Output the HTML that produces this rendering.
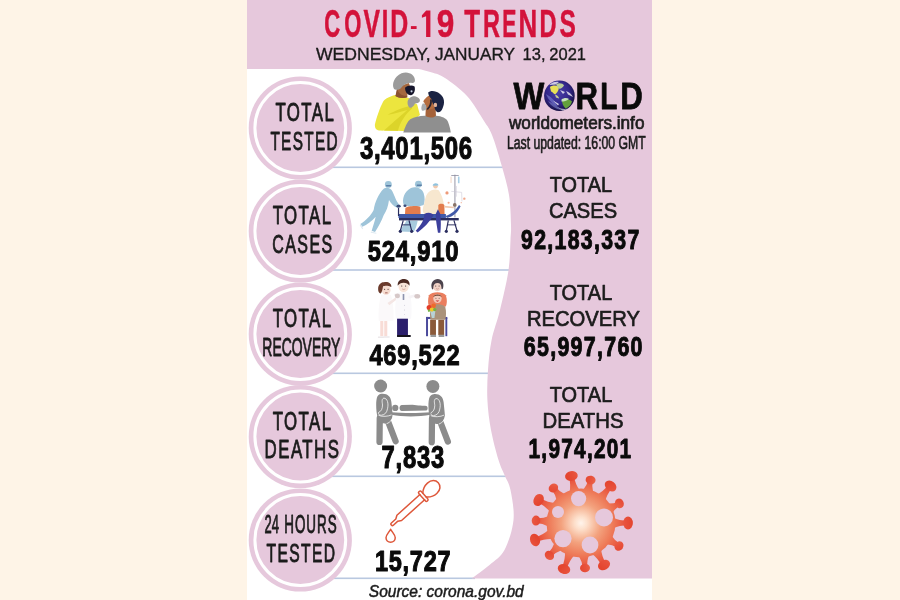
<!DOCTYPE html>
<html><head><meta charset="utf-8"><title>COVID-19 Trends</title>
<style>
html,body{margin:0;padding:0;background:#fef4e7;}
body{width:900px;height:600px;overflow:hidden;font-family:"Liberation Sans",sans-serif;}
svg{display:block;will-change:transform;font-family:"Liberation Sans",sans-serif;}
</style></head><body>
<svg width="900" height="600" viewBox="0 0 900 600">
<rect x="247" y="0" width="405" height="600" fill="#fff"/>
<rect x="247" y="0" width="405" height="69" fill="#e6c8dc"/>
<rect x="330" y="166.5" width="190" height="1.6" fill="#b9c8e0"/>
<rect x="330" y="269.2" width="190" height="1.6" fill="#b9c8e0"/>
<rect x="330" y="372.5" width="190" height="1.6" fill="#b9c8e0"/>
<rect x="330" y="475.5" width="190" height="1.6" fill="#b9c8e0"/>
<rect x="330" y="577.5" width="145" height="1.6" fill="#b9c8e0"/>
<path d="M 419.0 69.0 C 421.2 69.6 427.7 71.0 432.0 72.5 C 436.3 74.0 439.2 74.1 445.0 78.0 C 450.8 81.9 460.5 88.8 467.0 96.0 C 473.5 103.2 479.8 114.5 484.0 121.0 C 488.2 127.5 489.1 127.7 492.0 135.0 C 494.9 142.3 498.7 155.0 501.5 165.0 C 504.3 175.0 507.4 185.0 509.0 195.0 C 510.6 205.0 510.8 217.5 511.0 225.0 C 511.2 232.5 510.9 232.3 510.5 240.0 C 510.1 247.7 510.1 259.3 508.4 271.0 C 506.6 282.7 502.8 298.5 500.0 310.0 C 497.2 321.5 493.6 330.0 491.6 340.0 C 489.6 350.0 488.7 360.0 488.0 370.0 C 487.3 380.0 486.9 390.0 487.4 400.0 C 487.9 410.0 489.1 420.0 491.0 430.0 C 492.9 440.0 496.2 452.5 498.5 460.0 C 500.8 467.5 502.5 470.0 504.5 475.0 C 506.5 480.0 509.0 482.5 510.5 490.0 C 512.0 497.5 514.5 510.0 513.5 520.0 C 512.5 530.0 508.5 542.5 504.5 550.0 C 500.5 557.5 495.0 560.2 489.5 565.0 C 484.0 569.8 474.5 576.3 471.5 578.6 L 652 578.6 L 652 69 Z" fill="#e6c8dc"/>
<circle cx="300.3" cy="128.0" r="51.6" fill="#e6c8dc"/>
<circle cx="300.3" cy="128.0" r="45.4" fill="none" stroke="#fff" stroke-width="3"/>
<circle cx="300.3" cy="231.0" r="51.6" fill="#e6c8dc"/>
<circle cx="300.3" cy="231.0" r="45.4" fill="none" stroke="#fff" stroke-width="3"/>
<circle cx="300.3" cy="334.0" r="51.6" fill="#e6c8dc"/>
<circle cx="300.3" cy="334.0" r="45.4" fill="none" stroke="#fff" stroke-width="3"/>
<circle cx="300.3" cy="436.5" r="51.6" fill="#e6c8dc"/>
<circle cx="300.3" cy="436.5" r="45.4" fill="none" stroke="#fff" stroke-width="3"/>
<circle cx="300.3" cy="540.0" r="51.6" fill="#e6c8dc"/>
<circle cx="300.3" cy="540.0" r="45.4" fill="none" stroke="#fff" stroke-width="3"/>
<text transform="translate(324.36 36.90) scale(0.5813 1)" font-size="38.08" font-weight="bold" fill="#d3123a" stroke="#d3123a" stroke-width="0.5" stroke-linejoin="round">C</text>
<text transform="translate(344.37 36.90) scale(0.5781 1)" font-size="38.08" font-weight="bold" fill="#d3123a" stroke="#d3123a" stroke-width="0.5" stroke-linejoin="round">O</text>
<text transform="translate(363.43 36.90) scale(0.6495 1)" font-size="38.08" font-weight="bold" fill="#d3123a" stroke="#d3123a" stroke-width="0.5" stroke-linejoin="round">V</text>
<text transform="translate(381.73 36.90) scale(0.6157 1)" font-size="38.08" font-weight="bold" fill="#d3123a" stroke="#d3123a" stroke-width="0.5" stroke-linejoin="round">I</text>
<text transform="translate(390.33 36.90) scale(0.6533 1)" font-size="38.08" font-weight="bold" fill="#d3123a" stroke="#d3123a" stroke-width="0.5" stroke-linejoin="round">D</text>
<text transform="translate(436.65 36.90) scale(0.8284 1)" font-size="38.08" font-weight="bold" fill="#d3123a" stroke="#d3123a" stroke-width="0.5" stroke-linejoin="round">9</text>
<text transform="translate(464.19 36.90) scale(0.6810 1)" font-size="38.08" font-weight="bold" fill="#d3123a" stroke="#d3123a" stroke-width="0.5" stroke-linejoin="round">T</text>
<text transform="translate(482.92 36.90) scale(0.6162 1)" font-size="38.08" font-weight="bold" fill="#d3123a" stroke="#d3123a" stroke-width="0.5" stroke-linejoin="round">R</text>
<text transform="translate(502.17 36.90) scale(0.5577 1)" font-size="38.08" font-weight="bold" fill="#d3123a" stroke="#d3123a" stroke-width="0.5" stroke-linejoin="round">E</text>
<text transform="translate(518.56 36.90) scale(0.6810 1)" font-size="38.08" font-weight="bold" fill="#d3123a" stroke="#d3123a" stroke-width="0.5" stroke-linejoin="round">N</text>
<text transform="translate(539.52 36.90) scale(0.6191 1)" font-size="38.08" font-weight="bold" fill="#d3123a" stroke="#d3123a" stroke-width="0.5" stroke-linejoin="round">D</text>
<text transform="translate(559.51 36.90) scale(0.6434 1)" font-size="38.08" font-weight="bold" fill="#d3123a" stroke="#d3123a" stroke-width="0.5" stroke-linejoin="round">S</text>
<text transform="translate(315.99 60.00) scale(1.0338 1)" font-size="17.01" fill="#1a1a1a" stroke="#1a1a1a" stroke-width="0.35" stroke-linejoin="round">WEDNESDAY,</text>
<text transform="translate(434.92 60.00) scale(1.0149 1)" font-size="17.01" fill="#1a1a1a" stroke="#1a1a1a" stroke-width="0.35" stroke-linejoin="round">JANUARY</text>
<text transform="translate(522.54 60.00) scale(0.9721 1)" font-size="17.01" fill="#1a1a1a" stroke="#1a1a1a" stroke-width="0.35" stroke-linejoin="round">13,</text>
<text transform="translate(549.35 60.00) scale(0.9676 1)" font-size="17.01" fill="#1a1a1a" stroke="#1a1a1a" stroke-width="0.35" stroke-linejoin="round">2021</text>
<rect x="410.9" y="26.1" width="5.7" height="2.9" fill="#d3123a"/><path d="M421.9 15.2 L426.2 10.6 L430.4 10.6 L430.4 37.1 L426.1 37.1 L426.1 16.2 L421.9 17.8 Z" fill="#d3123a"/>
<text transform="translate(275.39 121.30) scale(0.6585 1)" font-size="25.58" fill="#1c1c1c" stroke="#1c1c1c" stroke-width="0.85" stroke-linejoin="round" letter-spacing="2.189">TOTAL</text>
<text transform="translate(270.42 149.50) scale(0.6138 1)" font-size="25.00" fill="#1c1c1c" stroke="#1c1c1c" stroke-width="0.85" stroke-linejoin="round" letter-spacing="2.156">TESTED</text>
<text transform="translate(272.69 223.90) scale(0.6574 1)" font-size="25.58" fill="#1c1c1c" stroke="#1c1c1c" stroke-width="0.85" stroke-linejoin="round" letter-spacing="2.189">TOTAL</text>
<text transform="translate(272.13 252.90) scale(0.6252 1)" font-size="25.58" fill="#1c1c1c" stroke="#1c1c1c" stroke-width="0.85" stroke-linejoin="round" letter-spacing="2.341">CASES</text>
<text transform="translate(272.69 327.30) scale(0.6574 1)" font-size="25.58" fill="#1c1c1c" stroke="#1c1c1c" stroke-width="0.85" stroke-linejoin="round" letter-spacing="2.189">TOTAL</text>
<text transform="translate(262.33 355.90) scale(0.5393 1)" font-size="25.87" fill="#1c1c1c" stroke="#1c1c1c" stroke-width="0.9" stroke-linejoin="round">RECOVERY</text>
<text transform="translate(272.69 429.90) scale(0.6574 1)" font-size="25.58" fill="#1c1c1c" stroke="#1c1c1c" stroke-width="0.85" stroke-linejoin="round" letter-spacing="2.189">TOTAL</text>
<text transform="translate(264.58 458.30) scale(0.6594 1)" font-size="25.58" fill="#1c1c1c" stroke="#1c1c1c" stroke-width="0.85" stroke-linejoin="round" letter-spacing="2.191">DEATHS</text>
<text transform="translate(264.40 533.30) scale(0.5086 1)" font-size="25.58" fill="#1c1c1c" stroke="#1c1c1c" stroke-width="0.9" stroke-linejoin="round">24</text>
<text transform="translate(284.18 533.30) scale(0.5253 1)" font-size="25.58" fill="#1c1c1c" stroke="#1c1c1c" stroke-width="0.9" stroke-linejoin="round" letter-spacing="1.938">HOURS</text>
<text transform="translate(266.54 561.80) scale(0.6121 1)" font-size="25.58" fill="#1c1c1c" stroke="#1c1c1c" stroke-width="0.9" stroke-linejoin="round" letter-spacing="2.206">TESTED</text>
<text transform="translate(359.95 158.80) scale(0.7745 1)" font-size="30.96" font-weight="bold" fill="#0a0a0a" stroke="#0a0a0a" stroke-width="1.1" stroke-linejoin="round" letter-spacing="0.894">3,401,506</text>
<text transform="translate(367.83 261.40) scale(0.8083 1)" font-size="29.51" font-weight="bold" fill="#0a0a0a" stroke="#0a0a0a" stroke-width="1.1" stroke-linejoin="round" letter-spacing="0.918">524,910</text>
<text transform="translate(369.39 364.80) scale(0.7809 1)" font-size="30.38" font-weight="bold" fill="#0a0a0a" stroke="#0a0a0a" stroke-width="1.1" stroke-linejoin="round" letter-spacing="0.949">469,522</text>
<text transform="translate(381.60 468.40) scale(0.7681 1)" font-size="30.96" font-weight="bold" fill="#0a0a0a" stroke="#0a0a0a" stroke-width="1.1" stroke-linejoin="round" letter-spacing="0.988">7,833</text>
<text transform="translate(374.94 571.00) scale(0.7792 1)" font-size="30.23" font-weight="bold" fill="#0a0a0a" stroke="#0a0a0a" stroke-width="1.1" stroke-linejoin="round" letter-spacing="0.942">15,727</text>
<text transform="translate(513.40 108.90) scale(0.8691 1)" font-size="37.50" font-weight="bold" fill="#0a0a0a" stroke="#0a0a0a" stroke-width="0.8" stroke-linejoin="round">W</text>
<text transform="translate(575.57 108.90) scale(0.8315 1)" font-size="37.50" font-weight="bold" fill="#0a0a0a" stroke="#0a0a0a" stroke-width="0.8" stroke-linejoin="round">R</text>
<text transform="translate(600.37 108.90) scale(0.7508 1)" font-size="37.50" font-weight="bold" fill="#0a0a0a" stroke="#0a0a0a" stroke-width="0.8" stroke-linejoin="round">L</text>
<text transform="translate(620.27 108.90) scale(0.8325 1)" font-size="37.50" font-weight="bold" fill="#0a0a0a" stroke="#0a0a0a" stroke-width="0.8" stroke-linejoin="round">D</text>
<text transform="translate(508.95 129.30) scale(0.9764 1)" font-size="17.60" fill="#1c1c1c" stroke="#1c1c1c" stroke-width="0.7" stroke-linejoin="round">worldometers.info</text>
<text transform="translate(506.94 149.10) scale(0.6968 1)" font-size="17.59" fill="#1c1c1c" stroke="#1c1c1c" stroke-width="0.65" stroke-linejoin="round">Last updated: 16:00 GMT</text>
<text transform="translate(549.75 192.20) scale(0.9009 1)" font-size="22.09" fill="#1c1c1c" stroke="#1c1c1c" stroke-width="0.7" stroke-linejoin="round">TOTAL</text>
<text transform="translate(548.94 217.50) scale(0.9048 1)" font-size="22.24" fill="#1c1c1c" stroke="#1c1c1c" stroke-width="0.7" stroke-linejoin="round">CASES</text>
<text transform="translate(521.05 248.70) scale(0.7796 1)" font-size="27.33" font-weight="bold" fill="#0a0a0a" stroke="#0a0a0a" stroke-width="1.0" stroke-linejoin="round" letter-spacing="1.663">92,183,337</text>
<text transform="translate(549.75 300.40) scale(0.9038 1)" font-size="22.09" fill="#1c1c1c" stroke="#1c1c1c" stroke-width="0.7" stroke-linejoin="round">TOTAL</text>
<text transform="translate(526.93 326.20) scale(0.9084 1)" font-size="22.24" fill="#1c1c1c" stroke="#1c1c1c" stroke-width="0.7" stroke-linejoin="round">RECOVERY</text>
<text transform="translate(523.75 356.00) scale(0.7830 1)" font-size="27.33" font-weight="bold" fill="#0a0a0a" stroke="#0a0a0a" stroke-width="1.0" stroke-linejoin="round" letter-spacing="1.663">65,997,760</text>
<text transform="translate(549.75 402.20) scale(0.9038 1)" font-size="22.09" fill="#1c1c1c" stroke="#1c1c1c" stroke-width="0.7" stroke-linejoin="round">TOTAL</text>
<text transform="translate(542.52 427.90) scale(0.9145 1)" font-size="22.24" fill="#1c1c1c" stroke="#1c1c1c" stroke-width="0.7" stroke-linejoin="round">DEATHS</text>
<text transform="translate(528.55 457.80) scale(0.7613 1)" font-size="27.33" font-weight="bold" fill="#0a0a0a" stroke="#0a0a0a" stroke-width="1.0" stroke-linejoin="round" letter-spacing="1.657">1,974,201</text>
<text transform="translate(368.78 596.90) scale(0.9281 1)" font-size="16.72" font-style="italic" fill="#1c1c1c" stroke="#1c1c1c" stroke-width="0.5" stroke-linejoin="round">Source: corona.gov.bd</text>
<defs><clipPath id="gc"><circle cx="559.4" cy="95.7" r="15.3"/></clipPath>
<radialGradient id="gg" cx="0.45" cy="0.4" r="0.62"><stop offset="0" stop-color="#4a40a8"/><stop offset="0.6" stop-color="#33278a"/><stop offset="1" stop-color="#130e3c"/></radialGradient>
<filter id="gb" x="-20%" y="-20%" width="140%" height="140%"><feGaussianBlur stdDeviation="0.7"/></filter></defs>
<circle cx="559.4" cy="95.7" r="15.3" fill="url(#gg)"/>
<g clip-path="url(#gc)" filter="url(#gb)">
<path d="M546 94 C548 99 552 104 557 106 C555 100 551 97 546 94 Z" fill="#6a6cc0" opacity="0.8"/>
<path d="M548 101 C551 106 556 109 561 110 L556 105 Z" fill="#7a80c8" opacity="0.6"/>
<path d="M550 87 C552 85 556 85 558.5 86.5 C559.5 90 557 92.5 555.5 94 C554 95 553 92 551 91.5 Z" fill="#e8e058"/>
<path d="M556 84 C559 82.5 563 83 564 85.5 C562.5 88.5 559.5 89.5 558 88 Z" fill="#b8cc98"/>
<path d="M555 94.5 C557.5 95.5 559 97 559 98.5 L556 97.5 Z" fill="#c8cc90"/>
<path d="M562 100 C565 98.5 570 99 572 101.5 C571 105 568.5 107.5 565.5 108.5 C563 106 562 103 562 100 Z" fill="#64a03a"/>
<path d="M561.5 99.5 C564 97.5 567 97.5 569 99 C566.5 101 564 101.5 561.5 101.5 Z" fill="#c8e0c0"/>
<path d="M549 85 C552 82 556 81 559 82 L555.5 84.5 Z M566 91 C569 92 571.5 94 573 97 L568 94.5 Z M553 100.5 L559 104 L558 105.5 Z M560 90 L565 92 L563 94 Z" fill="#ffffff" opacity="0.75"/>
<path d="M557 107 C561 109 565 109.5 568 108.5 L563 111 Z" fill="#d8e0f0" opacity="0.7"/>
</g>
<defs><radialGradient id="vg" gradientUnits="userSpaceOnUse" cx="581.0" cy="523.0" r="52"><stop offset="0" stop-color="#fff4ec"/><stop offset="0.12" stop-color="#fde0cc"/><stop offset="0.38" stop-color="#f3a27e"/><stop offset="0.62" stop-color="#ee7a58"/><stop offset="0.85" stop-color="#e8513c"/><stop offset="1" stop-color="#e4452f"/></radialGradient>
<mask id="vm" maskUnits="userSpaceOnUse" x="515" y="460" width="135" height="125"><rect x="515" y="460" width="135" height="125" fill="#fff"/>
<circle cx="578.6" cy="498.6" r="7.6" fill="#000"/>
<circle cx="558.0" cy="512.0" r="6.0" fill="#000"/>
<circle cx="604.0" cy="517.4" r="9.0" fill="#000"/>
<circle cx="563.0" cy="538.6" r="8.6" fill="#000"/>
<circle cx="590.0" cy="545.0" r="8.4" fill="#000"/>
</mask></defs>
<g mask="url(#vm)" fill="url(#vg)">
<circle cx="581.0" cy="523.0" r="34.5"/>
<path d="M 579.6 490.1 Q 575.6 485.3 573.7 475.5 L 569.1 476.5 Q 571.1 486.2 569.4 492.2 Z"/>
<ellipse cx="571.4" cy="476.0" rx="4.9" ry="6.4" transform="rotate(-101.5 571.4 476.0)"/>
<path d="M 593.2 492.4 Q 591.5 486.4 592.8 480.5 L 588.4 479.5 Q 587.0 485.4 583.0 490.1 Z"/>
<ellipse cx="590.6" cy="480.0" rx="4.3" ry="5.0" transform="rotate(-77.4 590.6 480.0)"/>
<path d="M 605.4 500.9 Q 606.5 494.8 612.4 487.4 L 608.8 484.6 Q 602.9 491.9 597.2 494.4 Z"/>
<ellipse cx="610.6" cy="486.0" rx="4.9" ry="6.4" transform="rotate(-51.3 610.6 486.0)"/>
<path d="M 612.3 512.9 Q 615.9 507.8 620.4 505.4 L 618.4 501.4 Q 613.8 503.7 607.6 503.6 Z"/>
<ellipse cx="619.4" cy="503.4" rx="4.3" ry="5.0" transform="rotate(-27.0 619.4 503.4)"/>
<path d="M 613.5 528.2 Q 619.0 525.3 628.0 525.3 L 628.0 520.7 Q 619.0 520.7 613.5 517.8 Z"/>
<ellipse cx="628.0" cy="523.0" rx="4.9" ry="6.4" transform="rotate(0.0 628.0 523.0)"/>
<path d="M 606.1 544.3 Q 612.3 544.6 617.8 548.0 L 620.2 544.0 Q 614.7 540.7 611.5 535.4 Z"/>
<ellipse cx="619.0" cy="546.0" rx="4.3" ry="5.0" transform="rotate(31.2 619.0 546.0)"/>
<path d="M 592.0 554.0 Q 597.2 557.4 602.0 566.1 L 606.0 563.9 Q 601.3 555.2 601.2 549.0 Z"/>
<ellipse cx="604.0" cy="565.0" rx="4.9" ry="6.4" transform="rotate(61.3 604.0 565.0)"/>
<path d="M 578.7 555.8 Q 582.1 561.1 582.7 568.2 L 587.3 567.8 Q 586.7 560.6 589.1 554.9 Z"/>
<ellipse cx="585.0" cy="568.0" rx="4.3" ry="5.0" transform="rotate(84.9 585.0 568.0)"/>
<path d="M 564.9 551.7 Q 565.7 557.8 561.8 568.2 L 566.2 569.8 Q 570.0 559.4 574.6 555.3 Z"/>
<ellipse cx="564.0" cy="569.0" rx="4.9" ry="6.4" transform="rotate(110.3 564.0 569.0)"/>
<path d="M 554.6 542.6 Q 552.8 548.6 547.8 553.8 L 551.0 557.0 Q 556.1 551.8 562.0 549.9 Z"/>
<ellipse cx="549.4" cy="555.4" rx="4.3" ry="5.0" transform="rotate(134.3 549.4 555.4)"/>
<path d="M 548.7 529.4 Q 544.6 534.0 534.2 537.8 L 535.8 542.2 Q 546.2 538.3 552.3 539.1 Z"/>
<ellipse cx="535.0" cy="540.0" rx="4.9" ry="6.4" transform="rotate(159.7 535.0 540.0)"/>
<path d="M 548.8 516.1 Q 543.2 518.7 536.1 518.3 L 535.9 522.9 Q 542.9 523.3 548.3 526.5 Z"/>
<ellipse cx="536.0" cy="520.6" rx="4.3" ry="5.0" transform="rotate(-176.9 536.0 520.6)"/>
<path d="M 554.9 502.9 Q 548.7 502.9 539.7 498.0 L 537.5 502.0 Q 546.5 506.9 550.0 512.1 Z"/>
<ellipse cx="538.6" cy="500.0" rx="4.9" ry="6.4" transform="rotate(-151.5 538.6 500.0)"/>
<path d="M 565.0 494.3 Q 559.3 491.7 555.2 486.6 L 551.6 489.4 Q 555.7 494.6 556.8 500.7 Z"/>
<ellipse cx="553.4" cy="488.0" rx="4.3" ry="5.0" transform="rotate(-128.3 553.4 488.0)"/>
</g>
<g transform="translate(370 68) scale(0.11673)">
<!-- doctor gown -->
<path d="M215 232 C170 245 130 262 112 290 C85 340 55 430 42 485 C40 520 55 536 90 536 L300 540 L335 478 L428 402 L404 312 C395 298 370 300 345 305 L335 258 L300 250 Z" fill="#ece53e"/>
<path d="M150 400 C230 360 300 335 352 322 L362 345 C300 400 255 470 240 538 L120 536 C160 500 250 420 320 360 C270 372 200 395 150 400 Z" fill="#dcd42a"/>
<!-- doctor neck/face -->
<path d="M232 165 C232 200 225 225 218 240 C250 262 290 262 318 250 L322 215 C345 190 350 150 330 128 Z" fill="#a5683f"/>
<path d="M232 175 C240 215 270 240 318 238 L320 250 C285 262 245 258 218 240 Z" fill="#8a5230"/>
<!-- cap -->
<path d="M205 178 C185 140 205 75 270 45 C330 22 385 60 385 105 C385 122 375 130 360 128 C325 120 290 140 262 175 C245 190 215 190 205 178 Z" fill="#9b9b9b"/>
<!-- mask -->
<path d="M300 170 C320 150 360 145 382 158 C390 190 380 222 352 234 C325 236 302 212 300 170 Z" fill="#16162c"/>
<circle cx="356" cy="200" r="9" fill="#c9d4e6"/>
<!-- glove hand -->
<path d="M322 290 C325 262 350 240 385 242 C410 250 430 262 428 282 C420 300 400 300 385 305 C375 330 355 345 340 340 C325 330 320 310 322 290 Z" fill="#9a9a9a"/>
<!-- patient shirt -->
<path d="M285 553 C300 505 318 462 345 440 C380 418 420 410 470 408 L565 408 C615 412 655 428 668 460 C680 490 688 525 692 553 Z" fill="#8f8f8f"/>
<!-- patient neck -->
<path d="M478 345 L475 410 C500 430 545 428 565 408 L562 330 Z" fill="#a5623a"/>
<!-- patient face -->
<path d="M500 238 C475 258 455 280 458 292 L468 300 C462 320 470 345 490 352 C520 360 560 345 570 310 C580 270 545 232 500 238 Z" fill="#b56d3f"/>
<!-- beard / mask grey -->
<path d="M452 305 C440 325 435 350 445 365 C460 372 478 360 485 345 L480 318 C470 310 462 305 452 305 Z" fill="#a9abae"/>
<!-- hair -->
<path d="M498 210 C515 192 560 190 600 222 C640 252 642 300 622 345 C612 372 595 384 575 378 C560 365 552 345 552 325 C540 312 530 290 528 268 C515 255 500 235 498 210 Z" fill="#1b2342"/>
<path d="M528 268 C535 300 525 335 495 360 L485 350 C510 325 518 300 515 270 Z" fill="#2a2430"/>
<ellipse cx="560" cy="316" rx="15" ry="19" fill="#e2b39a"/>
</g>

<g transform="translate(355 170) scale(0.13333)">
<!-- IV pole -->
<rect x="746" y="35" width="7" height="320" fill="#8f8fa0"/>
<rect x="722" y="38" width="56" height="6" fill="#8f8fa0"/>
<rect x="772" y="48" width="12" height="52" rx="4" fill="#a8cfe6"/>
<rect x="716" y="48" width="9" height="50" rx="4" fill="#f6dccc"/>
<path d="M722 160 L800 168 M800 168 L802 235 M760 120 L760 200" stroke="#c9c4d4" stroke-width="4" fill="none"/>
<circle cx="690" cy="172" r="12" fill="#ee9a78"/>
<circle cx="820" cy="215" r="9" fill="#f2a98c"/>
<circle cx="702" cy="246" r="8" fill="#f2a98c"/>
<circle cx="797" cy="245" r="5" fill="#f2b49c"/>
<!-- medic 1 -->
<g fill="#9ec4d9">
<circle cx="250" cy="108" r="26"/>
<path d="M215 140 C235 125 270 135 280 160 C300 200 310 240 335 262 L322 285 C290 275 270 250 255 225 C250 270 235 310 215 340 C200 380 175 430 150 465 L125 455 C135 420 150 380 155 350 C130 380 90 410 55 425 L40 405 C80 380 120 340 140 300 C150 240 175 180 215 140 Z"/>
</g>
<rect x="232" y="112" width="40" height="12" rx="5" fill="#5d7fa6"/>
<ellipse cx="327" cy="272" rx="16" ry="11" fill="#3a4a78"/>
<path d="M35 415 L55 445 L62 440 L45 410 Z M120 462 L160 470 L160 478 L118 470 Z" fill="#dfeaf2"/>
<!-- medic 2 -->
<g fill="#9ec4d9">
<circle cx="476" cy="106" r="26"/>
<path d="M365 260 C350 220 370 160 420 135 C460 120 505 140 515 175 C525 210 525 240 515 262 L470 275 L400 272 Z"/>
<path d="M385 380 L470 380 C465 410 455 440 440 465 L330 462 C345 440 370 410 385 380 Z" opacity="0.9"/>
</g>
<rect x="462" y="108" width="40" height="12" rx="5" fill="#5d7fa6"/>
<ellipse cx="375" cy="268" rx="12" ry="9" fill="#3a4a78"/>
<!-- doctor 3 cream -->
<path d="M545 175 C560 150 600 140 625 150 C650 180 665 230 668 270 L660 330 L520 330 C500 310 510 280 520 250 C525 220 530 195 545 175 Z" fill="#f7e7cf"/>
<circle cx="604" cy="122" r="17" fill="#f1c9ae"/>
<path d="M583 118 C580 95 625 90 626 116 Z" fill="#8fc3df"/>
<!-- orange patient -->
<path d="M378 285 C390 268 470 265 490 275 L492 332 L375 332 Z" fill="#e27c4c"/>
<path d="M625 262 C635 250 660 250 670 262 L672 332 L625 332 Z" fill="#e27c4c"/>
<!-- patient head + arm -->
<circle cx="748" cy="262" r="14" fill="#8a7468"/>
<path d="M670 268 L740 275 L742 287 L668 282 Z" fill="#f1c9ae"/>
<path d="M680 345 C720 330 760 300 780 262 L792 272 C775 315 735 350 690 360 Z" fill="#4059a8"/>
<!-- gurney -->
<rect x="326" y="330" width="356" height="30" rx="4" fill="#4059a8"/>
<rect x="330" y="360" width="448" height="18" fill="#2a2d5e"/>
<path d="M362 378 L340 455 M405 378 L425 455 M700 378 L685 455 M742 378 L765 455" stroke="#2a2d5e" stroke-width="9" fill="none"/>
<rect x="350" y="408" width="70" height="7" fill="#2a2d5e"/>
<rect x="690" y="408" width="70" height="7" fill="#2a2d5e"/>
<circle cx="340" cy="460" r="12" fill="#2a2d5e"/><circle cx="425" cy="460" r="12" fill="#2a2d5e"/>
<circle cx="685" cy="460" r="12" fill="#2a2d5e"/><circle cx="765" cy="460" r="12" fill="#2a2d5e"/>
<rect x="322" y="285" width="9" height="60" fill="#2a2d5e"/>
<!-- doctor legs -->
<path d="M520 330 C545 315 580 320 590 340 C560 390 515 435 470 468 L455 455 C490 420 520 380 520 330 Z" fill="#3c3f9c"/>
<path d="M605 330 L622 295 L640 330 C645 380 645 430 640 470 L622 470 C615 420 605 380 605 330 Z" fill="#3c3f9c"/>
</g>

<g transform="translate(370 272) scale(0.11673)">
<!-- nurse -->
<path d="M95 200 C120 185 160 185 180 200 C200 260 205 350 200 420 L75 420 C70 350 75 260 95 200 Z" fill="#fbf9fa"/>
<path d="M150 265 L225 215 L235 232 L165 285 Z" fill="#f4e6e4"/>
<rect x="88" y="420" width="26" height="130" fill="#f8dcd6"/>
<rect x="122" y="420" width="26" height="130" fill="#f8dcd6"/>
<path d="M68 552 h50 v14 h-50 Z M118 550 h50 v13 h-50 Z" fill="#ece8ea"/>
<ellipse cx="138" cy="155" rx="38" ry="40" fill="#f6dcd0"/>
<path d="M72 165 C62 120 85 85 130 85 C165 82 188 105 182 128 C160 118 130 112 112 122 C108 150 100 175 92 185 C82 182 75 175 72 165 Z" fill="#6b3b2c"/>
<rect x="128" y="176" width="24" height="7" rx="3" fill="#8a3a34"/><circle cx="125" cy="148" r="5" fill="#3a2a2a"/><circle cx="155" cy="148" r="5" fill="#3a2a2a"/>
<!-- doctor -->
<path d="M235 180 C265 168 310 168 340 180 C358 240 360 330 352 400 L222 400 C212 330 215 240 235 180 Z" fill="#faf9fb"/>
<path d="M240 215 L215 195 M340 215 L395 200" stroke="#f6f3f6" stroke-width="22" stroke-linecap="round"/>
<ellipse cx="235" cy="205" rx="22" ry="20" fill="#d6c8c8"/>
<ellipse cx="405" cy="208" rx="25" ry="20" fill="#d6c8c8"/>
<rect x="280" y="188" width="14" height="52" rx="5" fill="#8d93ae"/>
<circle cx="296" cy="285" r="4" fill="#b8b4c4"/><circle cx="296" cy="325" r="4" fill="#b8b4c4"/><circle cx="296" cy="365" r="4" fill="#b8b4c4"/>
<ellipse cx="288" cy="125" rx="44" ry="46" fill="#f8e4d8"/>
<path d="M238 118 C232 80 262 58 295 60 C328 62 345 88 338 118 C328 100 310 92 288 92 C265 92 248 100 238 118 Z" fill="#4c2a22"/>
<circle cx="272" cy="120" r="5" fill="#3a2a2a"/><circle cx="305" cy="120" r="5" fill="#3a2a2a"/><path d="M275 145 q14 10 28 0" stroke="#b06a60" stroke-width="4" fill="none"/><rect x="232" y="400" width="93" height="145" fill="#2b1f6c"/>
<path d="M232 540 h115 q6 8 0 16 h-115 Z" fill="#15121c"/>
<!-- woman -->
<path d="M505 200 C530 165 625 165 650 200 C662 240 660 275 650 295 L505 295 C495 270 495 235 505 200 Z" fill="#ea7e5e"/>
<ellipse cx="577" cy="122" rx="40" ry="42" fill="#f2d2c6"/>
<path d="M528 135 C518 90 545 60 580 60 C615 60 638 92 626 138 C620 155 612 150 612 135 C612 110 600 95 578 95 C556 95 542 110 542 135 C542 152 532 155 528 135 Z" fill="#4c434c"/>
<circle cx="563" cy="120" r="4.5" fill="#3a2a2a"/><circle cx="592" cy="120" r="4.5" fill="#3a2a2a"/><path d="M566 142 q12 9 24 0" stroke="#b06a60" stroke-width="4" fill="none"/><!-- wheelchair -->
<rect x="480" y="385" width="17" height="165" fill="#4b4b9c"/>
<rect x="646" y="390" width="16" height="160" fill="#4b4b9c"/>
<rect x="480" y="385" width="182" height="18" fill="#4b4b9c"/>
<!-- man -->
<path d="M520 300 C535 268 625 268 645 300 C655 340 652 380 645 410 L518 410 C512 380 512 340 520 300 Z" fill="#aa927a"/>
<ellipse cx="578" cy="228" rx="36" ry="38" fill="#f3cbbc"/>
<path d="M542 215 C545 185 612 185 614 215 C600 200 560 200 542 215 Z" fill="#6a4634"/>
<path d="M562 245 q16 18 32 0 Z" fill="#c42a2a"/><circle cx="565" cy="225" r="4" fill="#3a2a2a"/><circle cx="592" cy="225" r="4" fill="#3a2a2a"/>
<rect x="515" y="410" width="50" height="130" fill="#8b5a3a"/>
<rect x="585" y="410" width="50" height="130" fill="#8b5a3a"/>
<path d="M518 538 h48 v18 h-48 Z M588 538 h48 v18 h-48 Z" fill="#9a9a9a"/>
<!-- flowers -->
<path d="M515 330 L560 330 L552 395 L530 395 Z" fill="#b8d2d6"/>
<circle cx="507" cy="305" r="22" fill="#e43c28"/>
<circle cx="545" cy="290" r="20" fill="#ef6a2a"/>
<circle cx="530" cy="322" r="18" fill="#f0c828"/>
<circle cx="555" cy="322" r="14" fill="#74b444"/>
<circle cx="505" cy="332" r="10" fill="#74b444"/>
</g>

<g transform="translate(365 375) scale(0.125)" fill="#8b8b8b">
<!-- left bearer -->
<g>
<circle cx="125" cy="88" r="52"/>
<path d="M118 345 L116 535 M178 355 L245 530" stroke="#8b8b8b" stroke-width="50" stroke-linecap="round" fill="none"/>
<path d="M130 150 C178 145 206 170 211 215 L221 315 C222 350 200 380 165 388 C130 392 105 370 100 335 C88 290 84 200 100 170 C108 158 118 152 130 150 Z"/>
<path d="M108 322 C130 336 190 332 214 318 M172 390 C205 378 232 345 225 305" stroke="#fff" stroke-width="6" fill="none"/>
<path d="M150 185 C180 185 190 230 180 270 C175 300 160 318 130 322 C112 322 105 312 108 300 C130 290 140 270 140 240 C138 215 130 195 150 185 Z" stroke="#fff" stroke-width="6"/>
</g>
<g transform="translate(418 3)">
<circle cx="125" cy="88" r="52"/>
<path d="M118 345 L116 535 M178 355 L245 530" stroke="#8b8b8b" stroke-width="50" stroke-linecap="round" fill="none"/>
<path d="M130 150 C178 145 206 170 211 215 L221 315 C222 350 200 380 165 388 C130 392 105 370 100 335 C88 290 84 200 100 170 C108 158 118 152 130 150 Z"/>
<path d="M108 322 C130 336 190 332 214 318 M172 390 C205 378 232 345 225 305" stroke="#fff" stroke-width="6" fill="none"/>
<path d="M150 185 C180 185 190 230 180 270 C175 300 160 318 130 322 C112 322 105 312 108 300 C130 290 140 270 140 240 C138 215 130 195 150 185 Z" stroke="#fff" stroke-width="6"/>
</g>
<!-- stretcher -->
<path d="M212 298 C300 306 430 306 524 298 L524 318 C430 336 300 336 212 318 Z"/>
<circle cx="242" cy="263" r="25"/>
<path d="M295 240 L380 238 C420 245 470 245 490 248 C505 250 505 282 490 284 L295 288 C270 288 270 240 295 240 Z"/>
</g>

<g transform="translate(375 475) scale(0.125)" fill="none" stroke="#de573a" stroke-width="12" stroke-linejoin="round" stroke-linecap="round">
<g transform="translate(133 398) rotate(-42)">
<path d="M330 -28 L82 -28 L56 -12 L8 -12 C-7 -12 -7 12 8 12 L56 12 L82 28 L330 28"/>
<rect x="328" y="-50" width="26" height="100" rx="12"/>
<path d="M354 -20 C372 -40 398 -56 436 -56 C478 -56 502 -30 502 0 C502 30 478 56 436 56 C398 56 372 40 354 20"/>
</g>
<path transform="translate(0 -6)" d="M125 440 C112 465 88 485 88 508 C88 528 104 543 125 543 C146 543 162 528 162 508 C162 485 138 465 125 440 Z"/>
</g>

</svg>
</body></html>
